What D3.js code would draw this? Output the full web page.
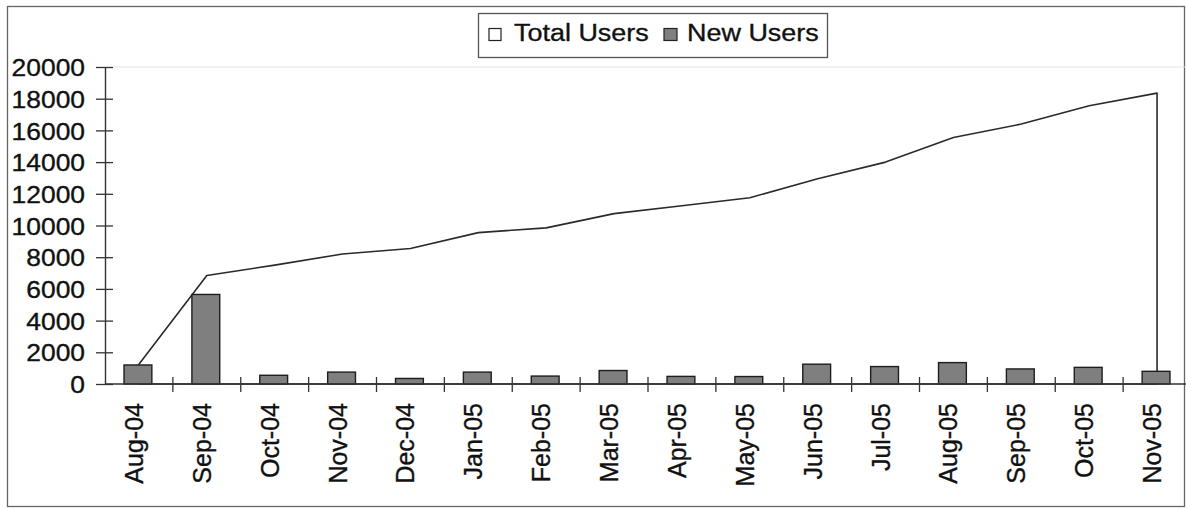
<!DOCTYPE html>
<html>
<head>
<meta charset="utf-8">
<script src="https://cdn.jsdelivr.net/npm/d3@7"></script>
<style>
  body { margin: 0; background: #fff; }
  svg { display: block; font-family: "Liberation Sans", Arial, Helvetica, sans-serif; }
  .lbl { fill: #111; stroke: #111; stroke-width: 0.35px; }
</style>
</head>
<body>
<svg id="chart" width="1186" height="509"></svg>
<script>
// Monthly user counts, Aug 2004 – Nov 2005
const months = ["Aug-04", "Sep-04", "Oct-04", "Nov-04", "Dec-04", "Jan-05", "Feb-05", "Mar-05",
                "Apr-05", "May-05", "Jun-05", "Jul-05", "Aug-05", "Sep-05", "Oct-05", "Nov-05"];
const totalUsers = [1250, 6850, 7500, 8200, 8550, 9550, 9850, 10750,
                    11250, 11750, 12950, 14000, 15550, 16400, 17550, 18350];
const newUsers = [1200, 5650, 550, 750, 350, 750, 500, 850,
                  480, 470, 1250, 1100, 1350, 950, 1050, 800];
const yTicks = [0, 2000, 4000, 6000, 8000, 10000, 12000, 14000, 16000, 18000, 20000];
const seriesNames = ["Total Users", "New Users"];

const svg = d3.select("#chart");
const plot = { left: 105, right: 1191, top: 67, bottom: 384 };

const x = d3.scaleBand().domain(months).range([plot.left, plot.right]).padding(0);
const y = d3.scaleLinear().domain([0, 20000]).range([plot.bottom, plot.top]);
const cx = m => x(m) + x.bandwidth() / 2;

// chart frame
svg.append("rect")
  .attr("x", 7.5).attr("y", 6.5).attr("width", 1177).attr("height", 500)
  .attr("fill", "#fff").attr("stroke", "#666").attr("stroke-width", 1.3);

// faint top edge of the plot area
svg.append("line")
  .attr("x1", plot.left + 8).attr("x2", 1186)
  .attr("y1", y(20000)).attr("y2", y(20000))
  .attr("stroke", "#e4e4e4").attr("stroke-width", 1);

// Total Users: white area with dark outline
const pts = months.map((m, i) => ({ m, v: totalUsers[i] }));
const area = d3.area()
  .x(d => cx(d.m))
  .y0(y(0))
  .y1(d => y(d.v));
svg.append("path")
  .datum(pts)
  .attr("d", area)
  .attr("fill", "#fff")
  .attr("stroke", "#2a2a2a")
  .attr("stroke-width", 1.6)
  .attr("stroke-linejoin", "round");

// New Users: grey columns
const bw = x.bandwidth() * 0.41;
svg.selectAll("rect.bar")
  .data(newUsers)
  .join("rect")
  .attr("class", "bar")
  .attr("x", (d, i) => cx(months[i]) - bw / 2 - 1)
  .attr("y", d => y(d))
  .attr("width", bw)
  .attr("height", d => y(0) - y(d))
  .attr("fill", "#7f7f7f")
  .attr("stroke", "#1e1e1e")
  .attr("stroke-width", 1.4);

// category axis line and boundary ticks
svg.append("line")
  .attr("x1", plot.left).attr("x2", plot.right)
  .attr("y1", y(0)).attr("y2", y(0))
  .attr("stroke", "#333").attr("stroke-width", 1.4);

const bounds = d3.range(1, months.length + 1).map(i => plot.left + i * x.bandwidth());
svg.selectAll("line.xtick")
  .data(bounds)
  .join("line")
  .attr("class", "xtick")
  .attr("x1", d => d).attr("x2", d => d)
  .attr("y1", y(0) - 7).attr("y2", y(0) + 8)
  .attr("stroke", "#333").attr("stroke-width", 1.3);

// rotated month labels
const xAxis = svg.append("g")
  .attr("transform", `translate(0,${y(0)})`)
  .call(d3.axisBottom(x).tickSize(0).tickPadding(0));
xAxis.select(".domain").remove();
xAxis.selectAll(".tick text")
  .attr("class", "lbl")
  .attr("font-size", 25)
  .attr("font-family", "\"Liberation Sans\", Arial, sans-serif")
  .attr("text-anchor", "end")
  .attr("y", 0).attr("x", 0)
  .attr("transform", "translate(-2,19) rotate(-90)")
  .attr("dy", "6px");

// value axis
const yAxis = svg.append("g")
  .attr("transform", `translate(${plot.left},0)`)
  .call(d3.axisLeft(y).tickValues(yTicks).tickSizeInner(9).tickSizeOuter(0).tickFormat(d3.format("d")));
yAxis.select(".domain").attr("stroke", "#333").attr("stroke-width", 1.4);
yAxis.selectAll(".tick line").attr("stroke", "#333").attr("stroke-width", 1.3);
yAxis.selectAll(".tick").append("line")
  .attr("x1", 0).attr("x2", 8)
  .attr("stroke", "#333").attr("stroke-width", 1.3);
yAxis.selectAll(".tick text")
  .attr("class", "lbl")
  .attr("font-size", 24)
  .attr("font-family", "\"Liberation Sans\", Arial, sans-serif")
  .attr("x", 0).attr("dy", "0.36em")
  .attr("transform", "translate(-20,0) scale(1.1,1)");

// legend
const lg = svg.append("g");
lg.append("rect")
  .attr("x", 478.5).attr("y", 13.5).attr("width", 349).attr("height", 44)
  .attr("fill", "#fff").attr("stroke", "#555").attr("stroke-width", 1.3);
lg.append("rect")
  .attr("x", 489).attr("y", 28.5).attr("width", 12).attr("height", 12)
  .attr("fill", "#fff").attr("stroke", "#222").attr("stroke-width", 1.2);
lg.append("rect")
  .attr("x", 664).attr("y", 28.5).attr("width", 13).attr("height", 12)
  .attr("fill", "#7f7f7f").attr("stroke", "#222").attr("stroke-width", 1.2);
[[514, seriesNames[0]], [687, seriesNames[1]]].forEach(([lx, label]) => {
  lg.append("text")
    .attr("class", "lbl")
    .attr("transform", `translate(${lx},40.7) scale(1.1,1)`)
    .attr("font-size", 24.5)
    .text(label);
});
</script>
</body>
</html>
